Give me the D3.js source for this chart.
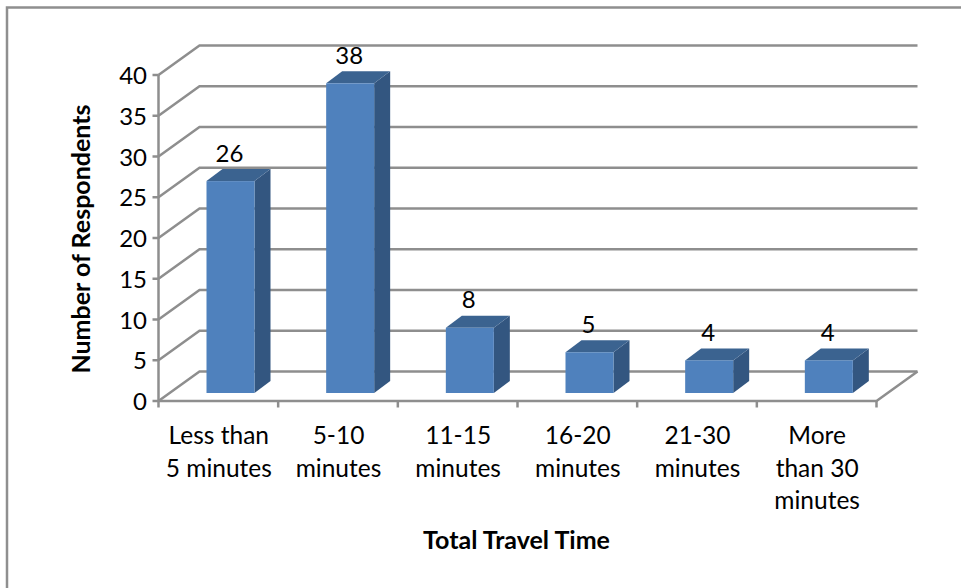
<!DOCTYPE html>
<html><head><meta charset="utf-8">
<script src="https://cdn.jsdelivr.net/npm/d3@7"></script>
<style>html,body{margin:0;padding:0;background:#fff;overflow:hidden}svg{display:block}text{font-family:Lato,sans-serif;fill:#000}</style>
</head><body><svg id="c" width="961" height="588"></svg>
<script>
const categories=[["Less than","5 minutes"],["5-10","minutes"],["11-15","minutes"],["16-20","minutes"],["21-30","minutes"],["More","than 30","minutes"]];
const values=[26,38,8,5,4,4];
const yTicks=[0,5,10,15,20,25,30,35,40];
const yTitle="Number of Respondents";
const xTitle="Total Travel Time";

const svg=d3.select("#c");
const W=718,L=158.5,B=401,T=75;
const dx=41,dy=-29.5;
const grid="#8e8e8e";
const x=d3.scaleBand().domain(d3.range(categories.length)).range([L,L+W]).paddingInner(0).paddingOuter(0);
const y=d3.scaleLinear().domain([0,40]).range([B,T]);

// chart frame
svg.append("path").attr("d","M7,588V7.5H961").attr("fill","none").attr("stroke","#8f8f8f").attr("stroke-width",2.5);

// walls and gridlines
const g=svg.append("g").attr("fill","none").attr("stroke",grid).attr("stroke-width",2.5);
yTicks.forEach(t=>{
  g.append("path").attr("d",`M${L},${y(t)}L${L+dx},${y(t)+dy}H${L+W+dx}`);
  g.append("line").attr("x1",L-6).attr("x2",L).attr("y1",y(t)).attr("y2",y(t));
});
g.append("line").attr("x1",L).attr("x2",L).attr("y1",T).attr("y2",B);
g.append("path").attr("d",`M${L},${B}H${L+W}L${L+W+dx},${B+dy}`);
d3.range(categories.length+1).forEach(i=>{
  const px=L+i*x.step();
  g.append("line").attr("x1",px).attr("x2",px).attr("y1",B).attr("y2",B+6.5);
});

// bars
const bw=48,off=48,fl=8,ddx=16,ddy=-12;
const bars=svg.append("g").selectAll("g").data(values).join("g");
bars.each(function(v,i){
  const s=d3.select(this);
  const x0=x(i)+off,x1=x0+bw,yb=y(0)-fl,yt=y(v)-fl;
  s.append("path").attr("fill","#335680").attr("d",`M${x1},${yt}L${x1+ddx},${yt+ddy}V${yb+ddy}L${x1},${yb}Z`);
  s.append("path").attr("fill","#3b6390").attr("d",`M${x0},${yt}L${x0+ddx},${yt+ddy}H${x1+ddx}L${x1},${yt}Z`);
  s.append("rect").attr("fill","#4f81bd").attr("x",x0).attr("y",yt).attr("width",bw).attr("height",yb-yt);
  s.append("text").attr("x",x0+bw/2-1).attr("y",yt+ddy-7.5).attr("text-anchor","middle").attr("font-size",24).text(v);
});

// y tick labels
svg.append("g").selectAll("text").data(yTicks).join("text")
 .attr("x",L-11.5).attr("y",d=>y(d)+9).attr("text-anchor","end").attr("font-size",24).text(d=>d);

// category labels
categories.forEach((c,i)=>{
  const t=svg.append("text").attr("text-anchor","middle").attr("font-size",24.5);
  c.forEach((ln,j)=>t.append("tspan").attr("x",x(i)+x.bandwidth()/2+0.5).attr("y",444+j*32.5).text(ln));
});

svg.append("text").attr("x",516.5).attr("y",549).attr("text-anchor","middle").attr("font-size",25).attr("font-weight",700).text(xTitle);
svg.append("text").attr("transform","translate(90,239) rotate(-90)").attr("text-anchor","middle").attr("font-size",25).attr("font-weight",700).text(yTitle);
</script></body></html>
